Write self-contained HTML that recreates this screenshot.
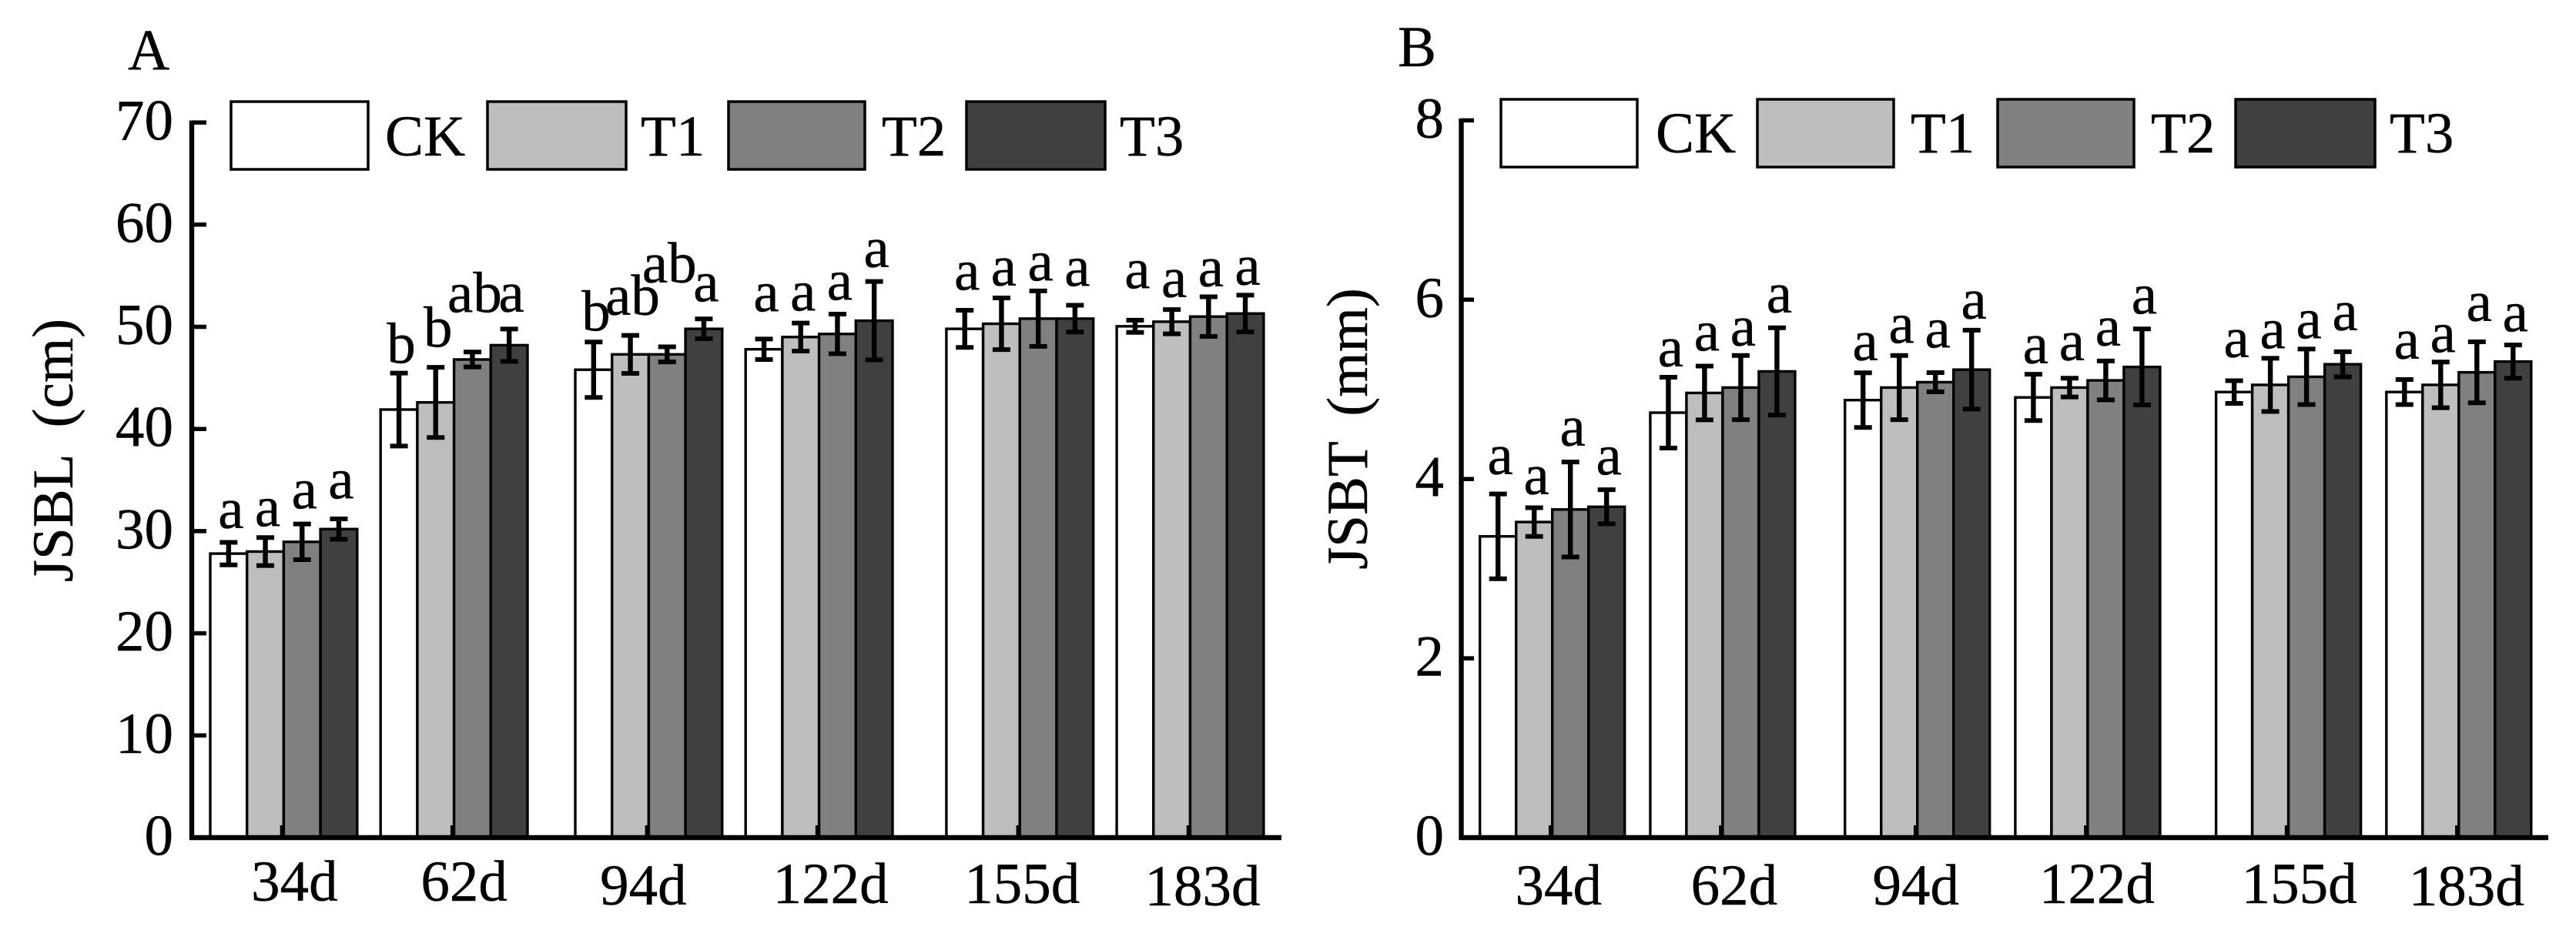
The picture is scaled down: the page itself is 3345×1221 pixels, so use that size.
<!DOCTYPE html>
<html lang="en">
<head>
<meta charset="utf-8">
<title>JSBL and JSBT bar charts</title>
<style>
  html, body { margin: 0; padding: 0; background: #ffffff; }
  svg { display: block; }
  text { font-family: "Liberation Serif", serif; font-size: 75px; fill: #000; stroke: #000; stroke-width: 0.4px; }
</style>
</head>
<body>
<svg id="figure" xmlns="http://www.w3.org/2000/svg" width="3345" height="1221" viewBox="0 0 3345 1221">
  <rect x="0" y="0" width="3345" height="1221" fill="#ffffff"/>

  <g id="panel-a">
    <text x="166" y="90">A</text>
    <text transform="translate(94 585) rotate(-90)" text-anchor="middle" word-spacing="18">JSBL (cm)</text>
    <g>
      <rect x="300" y="132" width="178" height="88" fill="#ffffff" stroke="#000" stroke-width="3.5"/>
      <text x="500" y="202">CK</text>
      <rect x="633" y="132" width="180" height="88" fill="#bebebe" stroke="#000" stroke-width="3.5"/>
      <text x="832" y="202">T1</text>
      <rect x="946" y="132" width="177" height="88" fill="#808080" stroke="#000" stroke-width="3.5"/>
      <text x="1145" y="202">T2</text>
      <rect x="1255" y="132" width="180" height="88" fill="#404040" stroke="#000" stroke-width="3.5"/>
      <text x="1454" y="202">T3</text>
    </g>
  </g>

  <g id="panel-b">
    <text x="1815" y="86">B</text>
    <text transform="translate(1775 557) rotate(-90)" text-anchor="middle" word-spacing="15">JSBT (mm)</text>
    <g>
      <rect x="1949" y="129" width="177" height="88" fill="#ffffff" stroke="#000" stroke-width="3.5"/>
      <text x="2150" y="198">CK</text>
      <rect x="2282" y="129" width="177" height="88" fill="#bebebe" stroke="#000" stroke-width="3.5"/>
      <text x="2481" y="198">T1</text>
      <rect x="2594" y="129" width="177" height="88" fill="#808080" stroke="#000" stroke-width="3.5"/>
      <text x="2793" y="198">T2</text>
      <rect x="2903" y="129" width="181" height="88" fill="#404040" stroke="#000" stroke-width="3.5"/>
      <text x="3103" y="198">T3</text>
    </g>
  </g>
</svg>

<script>
// ---------- shared categories ----------
const days = [34, 62, 94, 122, 155, 183];
const dayLabels = ['34d', '62d', '94d', '122d', '155d', '183d'];
const seriesNames = ['CK', 'T1', 'T2', 'T3'];

// ---------- panel A: JSBL (cm) ----------
const jsblTicks = [0, 10, 20, 30, 40, 50, 60, 70];
const jsblCK = [27.8, 41.9, 45.8, 47.8, 49.8, 50.05];
const jsblT1 = [28.0, 42.6, 47.3, 49.0, 50.3, 50.5];
const jsblT2 = [28.95, 46.8, 47.3, 49.3, 50.8, 51.0];
const jsblT3 = [30.2, 48.2, 49.8, 50.6, 50.8, 51.3];
const jsblErrCK = [1.1, 3.57, 2.71, 1.0, 1.82, 0.6];
const jsblErrT1 = [1.37, 3.43, 1.86, 1.37, 2.53, 1.19];
const jsblErrT2 = [1.75, 0.73, 0.74, 1.94, 2.71, 1.94];
const jsblErrT3 = [1.0, 1.58, 0.97, 3.84, 1.31, 1.8];
const jsblLettersCK = ['a', 'b', 'b', 'a', 'a', 'a'];
const jsblLettersT1 = ['a', 'b', 'ab', 'a', 'a', 'a'];
const jsblLettersT2 = ['a', 'ab', 'ab', 'a', 'a', 'a'];
const jsblLettersT3 = ['a', 'a', 'a', 'a', 'a', 'a'];
// height of each significance letter above its whisker, in data units
const jsblLiftCK = [1.4, 1.0, 1.1, 2.7, 2.0, 3.1];
const jsblLiftT1 = [1.1, 2.0, 2.0, 1.2, 1.2, 1.2];
const jsblLiftT2 = [1.5, 3.9, 6.3, 1.4, 1.0, 1.0];
const jsblLiftT3 = [2.0, 1.7, 1.7, 1.4, 1.9, 1.0];

// ---------- panel B: JSBT (mm) ----------
const jsbtTicks = [0, 2, 4, 6, 8];
const jsbtCK = [3.36, 4.74, 4.88, 4.91, 4.97, 4.97];
const jsbtT1 = [3.52, 4.96, 5.02, 5.02, 5.05, 5.05];
const jsbtT2 = [3.66, 5.02, 5.08, 5.1, 5.14, 5.19];
const jsbtT3 = [3.69, 5.2, 5.22, 5.25, 5.28, 5.31];
const jsbtErrCK = [0.473, 0.395, 0.305, 0.258, 0.127, 0.14];
const jsbtErrT1 = [0.16, 0.3, 0.358, 0.105, 0.297, 0.255];
const jsbtErrT2 = [0.53, 0.358, 0.107, 0.217, 0.31, 0.34];
const jsbtErrT3 = [0.19, 0.487, 0.44, 0.424, 0.14, 0.185];
const jsbtLetters = ['a', 'a', 'a', 'a', 'a', 'a'];
const jsbtLiftCK = [0.22, 0.12, 0.14, 0.12, 0.26, 0.23];
const jsbtLiftT1 = [0.15, 0.17, 0.14, 0.20, 0.11, 0.11];
const jsbtLiftT2 = [0.18, 0.11, 0.28, 0.17, 0.12, 0.23];
const jsbtLiftT3 = [0.17, 0.17, 0.13, 0.17, 0.24, 0.15];

// ---------- drawing ----------
const SVG_NS = 'http://www.w3.org/2000/svg';
const seriesFills = ['#ffffff', '#bebebe', '#808080', '#404040'];

function make(parent, tag, attrs, content) {
  const node = document.createElementNS(SVG_NS, tag);
  Object.keys(attrs).forEach(function (k) { node.setAttribute(k, attrs[k]); });
  if (content !== undefined) node.textContent = content;
  parent.appendChild(node);
  return node;
}

function drawPanel(cfg) {
  const root = document.getElementById(cfg.id);
  const yScale = function (v) { return cfg.y0 - v * cfg.yUnit; };
  const xScale = function (d) { return cfg.xStart + (d - days[0]) * cfg.xPerDay; };

  const barsGroup = make(root, 'g', {});
  
  

  days.forEach(function (day, g) {
    seriesNames.forEach(function (name, s) {
      const left = xScale(day) + s * cfg.barW;
      const top = yScale(cfg.values[s][g]);
      const bar = make(barsGroup, 'rect', {
        x: left, y: top, width: cfg.barW, height: cfg.y0 - top,
        fill: seriesFills[s], stroke: '#000', 'stroke-width': 3.4
      });
      
      
    });
  });

  // x-axis inner ticks (sit over the bars)
  days.forEach(function (day, g) {
    const cx = xScale(day) + 2 * cfg.barW - 2;
    const xTick = make(root, 'line', {
      x1: cx, x2: cx, y1: cfg.y0 - 16, y2: cfg.y0, stroke: '#000', 'stroke-width': 5.5
    });
    
    

    const xLabel = make(root, 'text', {
      x: cx + cfg.labelDx[g], y: cfg.labelBase + cfg.labelDy[g], 'text-anchor': 'middle'
    }, dayLabels[g]);
    
    
  });

  // whiskers and significance letters
  days.forEach(function (day, g) {
    seriesNames.forEach(function (name, s) {
      const cx = xScale(day) + (s + 0.5) * cfg.barW;
      const v = cfg.values[s][g];
      const e = cfg.errors[s][g];
      const yHi = yScale(v + e);
      const yLo = yScale(v - e);

      const stem = make(root, 'line', { x1: cx, x2: cx, y1: yHi, y2: yLo, stroke: '#000', 'stroke-width': 6.4 });
      
      

      const capTop = make(root, 'line', { x1: cx - 11.5, x2: cx + 11.5, y1: yHi, y2: yHi, stroke: '#000', 'stroke-width': 6 });
      
      

      const capBottom = make(root, 'line', { x1: cx - 11.5, x2: cx + 11.5, y1: yLo, y2: yLo, stroke: '#000', 'stroke-width': 6 });
      
      

      const letter = make(root, 'text', {
        x: cx + 3, y: yScale(v + e + cfg.lifts[s][g]), 'text-anchor': 'middle'
      }, cfg.letters[s][g]);
      
      
    });
  });

  // axes
  const topTick = yScale(cfg.ticks[cfg.ticks.length - 1]);
  const yAxis = make(root, 'line', {
    x1: cfg.axisX, x2: cfg.axisX, y1: topTick - 2.5, y2: cfg.y0 + 2, stroke: '#000', 'stroke-width': 6.4
  });
  
  

  const xAxis = make(root, 'line', {
    x1: cfg.axisX - 3, x2: cfg.xEnd, y1: cfg.y0, y2: cfg.y0, stroke: '#000', 'stroke-width': 6.5
  });
  
  

  cfg.ticks.forEach(function (t) {
    const ty = yScale(t);
    const yTick = make(root, 'line', {
      x1: cfg.axisX, x2: cfg.axisX + cfg.tickLen, y1: ty, y2: ty, stroke: '#000', 'stroke-width': 5.5
    });
    
    

    const yLabel = make(root, 'text', {
      x: cfg.tickLabelX, y: ty + 22.5, 'text-anchor': 'end'
    }, String(t));
    
    
  });
}

drawPanel({
  id: 'panel-a',
  values: [jsblCK, jsblT1, jsblT2, jsblT3],
  errors: [jsblErrCK, jsblErrT1, jsblErrT2, jsblErrT3],
  letters: [jsblLettersCK, jsblLettersT1, jsblLettersT2, jsblLettersT3],
  lifts: [jsblLiftCK, jsblLiftT1, jsblLiftT2, jsblLiftT3],
  ticks: jsblTicks,
  y0: 1088, yUnit: 13.27,
  xStart: 273, xPerDay: 7.9, barW: 47.7, xEnd: 1664,
  axisX: 249, tickLen: 19, tickLabelX: 225,
  labelBase: 1170, labelDx: [16, 15, -5, 17, 5, 18], labelDy: [0, 0, 5, 3, 3, 6]
});

drawPanel({
  id: 'panel-b',
  values: [jsbtCK, jsbtT1, jsbtT2, jsbtT3],
  errors: [jsbtErrCK, jsbtErrT1, jsbtErrT2, jsbtErrT3],
  letters: [jsbtLetters, jsbtLetters, jsbtLetters, jsbtLetters],
  lifts: [jsbtLiftCK, jsbtLiftT1, jsbtLiftT2, jsbtLiftT3],
  ticks: jsbtTicks,
  y0: 1088, yUnit: 116.45,
  xStart: 1921.7, xPerDay: 7.9, barW: 47, xEnd: 3309,
  axisX: 1897.5, tickLen: 16.5, tickLabelX: 1875,
  labelBase: 1173, labelDx: [10, 17, 0, 14, 16, 12], labelDy: [2, 2, 2, 0, 0, 3]
});
</script>
</body>
</html>
